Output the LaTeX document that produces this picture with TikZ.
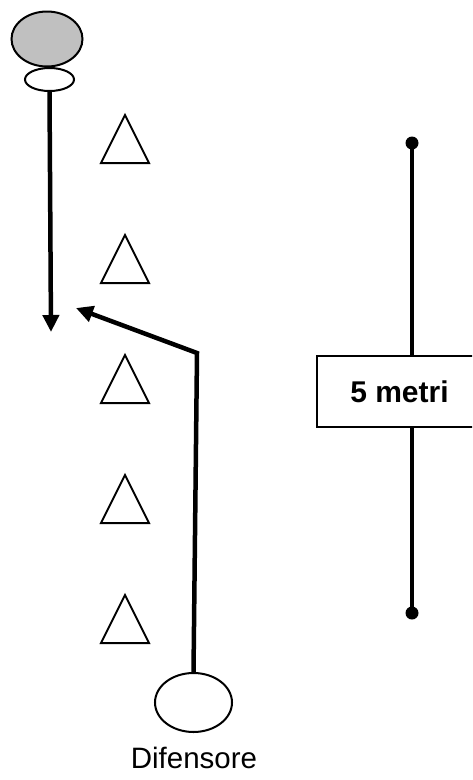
\documentclass[tikz,border=0pt]{standalone}
\usepackage{fontspec}
\setmainfont{Liberation Sans}
\usetikzlibrary{arrows.meta,shapes.geometric}
\begin{document}
\begin{tikzpicture}[x=1pt,y=-1pt,
  outl/.style={draw=black,line width=2pt},
  thick4/.style={draw=black,line width=4.5pt},
  arr/.style={thick4,-{Triangle[length=17pt,width=16pt]}}]
\useasboundingbox (0,0) rectangle (472,780);
\clip (0,0) rectangle (472,780);
\draw[outl,fill={rgb,255:red,192;green,192;blue,192}] (47,39) ellipse [x radius=35.5,y radius=27.5];
\node[outl,fill=white,ellipse,minimum width=49pt,minimum height=23pt,inner sep=0pt] (ball) at (49.5,79.5) {};
\foreach \y in {115,235,355,475,595}
  \draw[outl] (125,\y) -- (149,\y+48) -- (101,\y+48) -- cycle;
\coordinate (a1end) at (51,332);
\draw[arr] (ball.south) -- (a1end);
\node[outl,ellipse,minimum width=77pt,minimum height=59pt,inner sep=0pt] (dif) at (193.5,702.5) {};
\node[font=\fontsize{29.5}{34}\selectfont] (lab) at (194,758) {Difensore};
\coordinate (bend) at (197,353);
\coordinate (a2end) at (76,308);
\draw[arr] (dif.north) -- (bend) -- (a2end);
\coordinate (top) at (412,143);
\coordinate (bot) at (412,613);
\draw[thick4] (top) -- (bot);
\fill (top) circle (6.5);
\fill (bot) circle (6.5);
\node[outl,fill=white,minimum width=165pt,minimum height=71pt,font=\bfseries\fontsize{30}{34}\selectfont] (box) at (399.5,391.5) {5 metri};
\end{tikzpicture}
\end{document}
